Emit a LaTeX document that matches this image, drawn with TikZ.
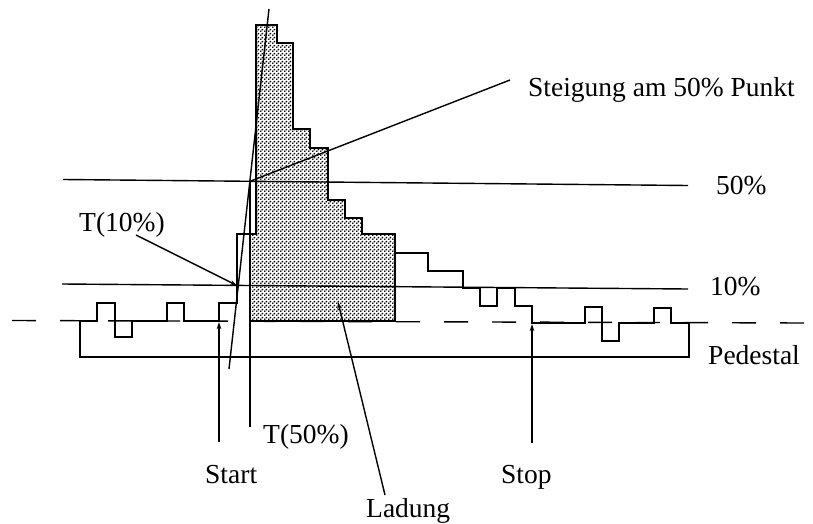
\documentclass[tikz,border=0pt]{standalone}
\usepackage{fontspec}
\setmainfont{Liberation Serif}
\usetikzlibrary{patterns,arrows.meta}
\pgfdeclarepatternformonly{mydots}{\pgfpointorigin}{\pgfpoint{4pt}{4pt}}{\pgfpoint{4pt}{4pt}}{%
  \pgfpathcircle{\pgfpoint{1pt}{1pt}}{1.15pt}%
  \pgfpathcircle{\pgfpoint{3pt}{3pt}}{1.15pt}%
  \pgfusepath{fill}%
}
\begin{document}
\begin{tikzpicture}[x=1pt,y=-1pt,
  thinline/.style={line width=1.4pt},
  sig/.style={line width=2pt, line join=miter},
  lbl/.style={font=\fontsize{27.5}{30}\selectfont, inner sep=0pt, anchor=base west},
  arr/.style={line width=1.4pt, -{Stealth[length=7pt,width=4.5pt]}},
]
\useasboundingbox (0,0) rectangle (813,524);

% key points
\coordinate (p50) at (250,181.3);
\coordinate (p10) at (237,285.5);
\coordinate (t50end) at (250,427);
\coordinate (slopeend) at (510,80);
\coordinate (steeptop) at (269,9);
\coordinate (steepbot) at (229,369);

% shaded charge region
\fill[pattern=mydots] (251,321) -- (251,234) -- (256,234) -- (256,25) -- (277,25) -- (277,43) -- (293,43) -- (293,129) -- (310,129) -- (310,148) -- (328,148) -- (328,200) -- (345,200) -- (345,218) -- (362,218) -- (362,234) -- (395,234) -- (395,321) -- cycle;
\draw[sig] (395,253) -- (395,321) -- (251,321);

% threshold lines
\draw[thinline] (63,179.5) -- (688,185.5);
\draw[thinline] (62,284) -- (688,289);

% dashed pedestal level
\draw[thinline, dash pattern=on 24pt off 24pt] (12,320.5) -- (804,323);

% pedestal bracket
\draw[thinline] (80,321) -- (80,357) -- (689,357) -- (689,323);

% signal histogram
\draw[sig] (80,321) -- (97,321) -- (97,303) -- (115,303) -- (115,337) -- (132,337) -- (132,321) -- (167,321) -- (167,303) -- (184,303) -- (184,321) -- (219,321) -- (219,303) -- (237,303) -- (237,234) -- (256,234) -- (256,25) -- (277,25) -- (277,43) -- (293,43) -- (293,129) -- (310,129) -- (310,148) -- (328,148) -- (328,200) -- (345,200) -- (345,218) -- (362,218) -- (362,234) -- (395,234) -- (395,253) -- (428,253) -- (428,271) -- (463,271) -- (463,288) -- (480,288) -- (480,306) -- (497,306) -- (497,288) -- (515,288) -- (515,306) -- (532,306) -- (532,323) -- (585,323) -- (585,307) -- (602,307) -- (602,341) -- (619,341) -- (619,323) -- (654,323) -- (654,308) -- (671,308) -- (671,323) -- (689,323);

% steep rise line and slope line
\draw[thinline] (steeptop) -- (steepbot);
\draw[thinline] (p50) -- (slopeend);
\draw[thinline] (p50) -- (t50end);

% labels
\node[lbl] (steig) at (528,97) {Steigung am 50\% Punkt};
\node[lbl] (l50) at (716,194) {50\%};
\node[lbl] (l10) at (710,295) {10\%};
\node[lbl] (lped) at (708,364) {Pedestal};
\node[lbl] (lt10) at (79,231) {T(10\%)};
\node[lbl] (lt50) at (263,443) {T(50\%)};
\node[lbl] (lstart) at (205,483) {Start};
\node[lbl] (lstop) at (501,483) {Stop};
\node[lbl] (llad) at (366,517) {Ladung};

% arrows
\coordinate (t10from) at (136,235);
\coordinate (startfrom) at (219,442);
\coordinate (startto) at (219,322);
\coordinate (stopfrom) at (532,443);
\coordinate (stopto) at (532,324);
\coordinate (ladfrom) at (385,495);
\coordinate (ladto) at (338,302);
\draw[arr] (t10from) -- (p10);
\draw[arr] (startfrom) -- (startto);
\draw[arr] (stopfrom) -- (stopto);
\draw[arr] (ladfrom) -- (ladto);
\end{tikzpicture}
\end{document}
